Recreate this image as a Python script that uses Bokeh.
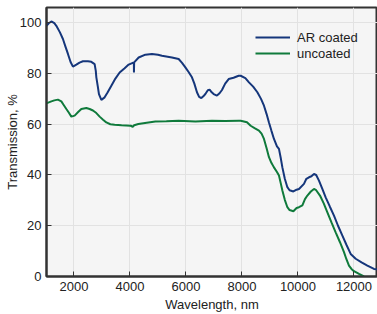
from bokeh.plotting import figure
from bokeh.models import Range1d, Legend, LegendItem, FixedTicker
from bokeh.embed import file_html
from bokeh.resources import INLINE

# AR coated series
ar_wl = [1020, 1100, 1193, 1300, 1371, 1500, 1607, 1700, 1786, 1880, 1964, 2086, 2200, 2321,
         2500, 2621, 2739, 2780, 2800, 2850, 2893, 2979, 3096, 3200, 3336, 3480, 3632, 3800,
         3954, 4100, 4140, 4143, 4150, 4311, 4550, 4786, 5000, 5143, 5500, 5739, 5860, 5979,
         6100, 6214, 6300, 6393, 6470, 6550, 6620, 6693, 6780, 6846, 6920, 6989, 7107, 7200,
         7286, 7400, 7525, 7700, 7882, 7954, 8121, 8250, 8400, 8550, 8680, 8786, 8880, 8964,
         9050, 9143, 9250, 9321, 9380, 9443, 9530, 9621, 9700, 9836, 9950, 10036, 10214, 10300,
         10393, 10480, 10571, 10650, 10750, 10870, 10989, 11140, 11286, 11430, 11586, 11730,
         11882, 12061, 12270, 12479, 12714, 12846]
ar_t = [98.8, 99.8, 100.5, 99.8, 98.8, 96.2, 93.6, 90.5, 87.7, 84.5, 82.7, 83.5, 84.3, 84.8,
        84.8, 84.6, 83.7, 81.0, 78.5, 75.0, 71.9, 69.6, 70.6, 72.5, 75.2, 78.0, 80.4, 82.0,
        83.5, 84.2, 84.2, 80.4, 84.4, 86.3, 87.4, 87.7, 87.4, 87.0, 86.3, 85.7, 84.2, 82.4,
        80.5, 78.5, 76.0, 72.6, 70.8, 70.3, 71.0, 71.9, 73.4, 73.6, 72.6, 71.9, 71.3, 72.2,
        73.5, 76.0, 77.8, 78.3, 79.1, 79.1, 78.2, 76.5, 74.8, 72.6, 70.0, 67.3, 64.0, 60.7,
        57.5, 54.2, 51.3, 50.3, 47.0, 43.0, 38.5, 35.2, 34.0, 33.5, 34.2, 34.5, 36.5, 38.5,
        39.1, 39.5, 40.4, 40.0, 37.8, 34.5, 31.2, 27.5, 24.0, 20.0, 16.1, 12.5,
        8.9, 7.0, 5.6, 4.3, 3.0, 2.8]

# uncoated series
un_wl = [1014, 1193, 1300, 1429, 1550, 1640, 1729, 1820, 1907, 2025, 2150, 2264, 2443, 2560,
         2679, 2800, 2918, 3040, 3157, 3300, 3454, 3700, 4025, 4100, 4150, 4300, 4600, 4907,
         5300, 5739, 6336, 6929, 7400, 7882, 7954, 8179, 8311, 8450, 8607, 8700, 8786, 8880,
         8964, 9050, 9143, 9250, 9321, 9380, 9443, 9530, 9621, 9700, 9836, 9950, 10036, 10157,
         10250, 10336, 10460, 10571, 10650, 10786, 10920, 11050, 11200, 11346, 11500, 11643,
         11730, 11821, 11910, 12000, 12180, 12357]
un_t = [68.2, 69.0, 69.4, 69.7, 69.0, 67.5, 66.0, 64.5, 63.0, 63.4, 64.8, 66.0, 66.4, 66.0,
        65.4, 64.4, 63.0, 61.8, 60.7, 60.0, 59.8, 59.6, 59.4, 59.0, 59.6, 60.1, 60.6, 61.1,
        61.2, 61.4, 61.1, 61.4, 61.3, 61.4, 61.4, 60.8, 59.4, 58.5, 57.5, 56.3, 54.2, 50.5,
        47.0, 44.8, 43.0, 41.2, 39.8, 37.0, 33.9, 30.2, 27.3, 26.2, 25.7, 27.0, 27.3, 28.0,
        30.5, 31.9, 33.5, 34.5, 34.0, 31.9, 28.8, 25.3, 21.2, 17.4, 13.5, 9.6,
        6.8, 4.3, 3.0, 2.1, 1.0, 0.0]

x_ticks = [2000, 4000, 6000, 8000, 10000, 12000]
y_ticks = [0, 20, 40, 60, 80, 100]
series_names = ["AR coated", "uncoated"]
x_title = "Wavelength, nm"
y_title = "Transmission, %"

FONT = "Liberation Sans"
BLUE = "#15367b"
GREEN = "#0f7a3b"

p = figure(width=377, height=314, output_backend="svg", toolbar_location=None,
           x_range=Range1d(1020, 12840), y_range=Range1d(0, 106),
           min_border_left=46, min_border_right=0, min_border_top=7, min_border_bottom=37)

p.background_fill_color = "#f5f5f5"
p.border_fill_color = "white"
p.outline_line_color = "#333333"
p.outline_line_width = 2

p.xgrid.grid_line_color = "#e2e2e2"
p.ygrid.grid_line_color = "#e2e2e2"
p.xgrid.ticker = FixedTicker(ticks=x_ticks)
p.ygrid.ticker = FixedTicker(ticks=y_ticks)

for ax, ticks in ((p.xaxis, x_ticks), (p.yaxis, y_ticks)):
    ax.ticker = FixedTicker(ticks=ticks)
    ax.axis_line_color = "#333333"
    ax.axis_line_width = 2
    ax.major_tick_in = 5
    ax.major_tick_out = 0
    ax.major_tick_line_color = "#333333"
    ax.major_tick_line_width = 1
    ax.minor_tick_line_color = None
    ax.major_label_text_font = FONT
    ax.major_label_text_font_size = "13px"
    ax.major_label_text_color = "#222222"
    ax.axis_label_text_font = FONT
    ax.axis_label_text_font_size = "13px"
    ax.axis_label_text_font_style = "normal"
    ax.axis_label_text_color = "#222222"

p.xaxis.axis_label = x_title
p.yaxis.axis_label = y_title
p.xaxis.major_label_standoff = 5
p.xaxis.axis_label_standoff = 3
p.yaxis.major_label_standoff = 5
p.yaxis.axis_label_standoff = -3

r1 = p.line(ar_wl, ar_t, line_color=BLUE, line_width=2)
r2 = p.line(un_wl, un_t, line_color=GREEN, line_width=2)

legend = Legend(items=[LegendItem(label=series_names[0], renderers=[r1]),
                       LegendItem(label=series_names[1], renderers=[r2])],
                location=(209, 215), background_fill_alpha=0, border_line_alpha=0,
                glyph_width=35, glyph_height=16, label_height=16, spacing=0,
                padding=0, margin=0, label_standoff=7,
                label_text_font=FONT, label_text_font_size="13px",
                label_text_color="#222222")
p.add_layout(legend)

open("out.html", "w").write(file_html(p, INLINE))
